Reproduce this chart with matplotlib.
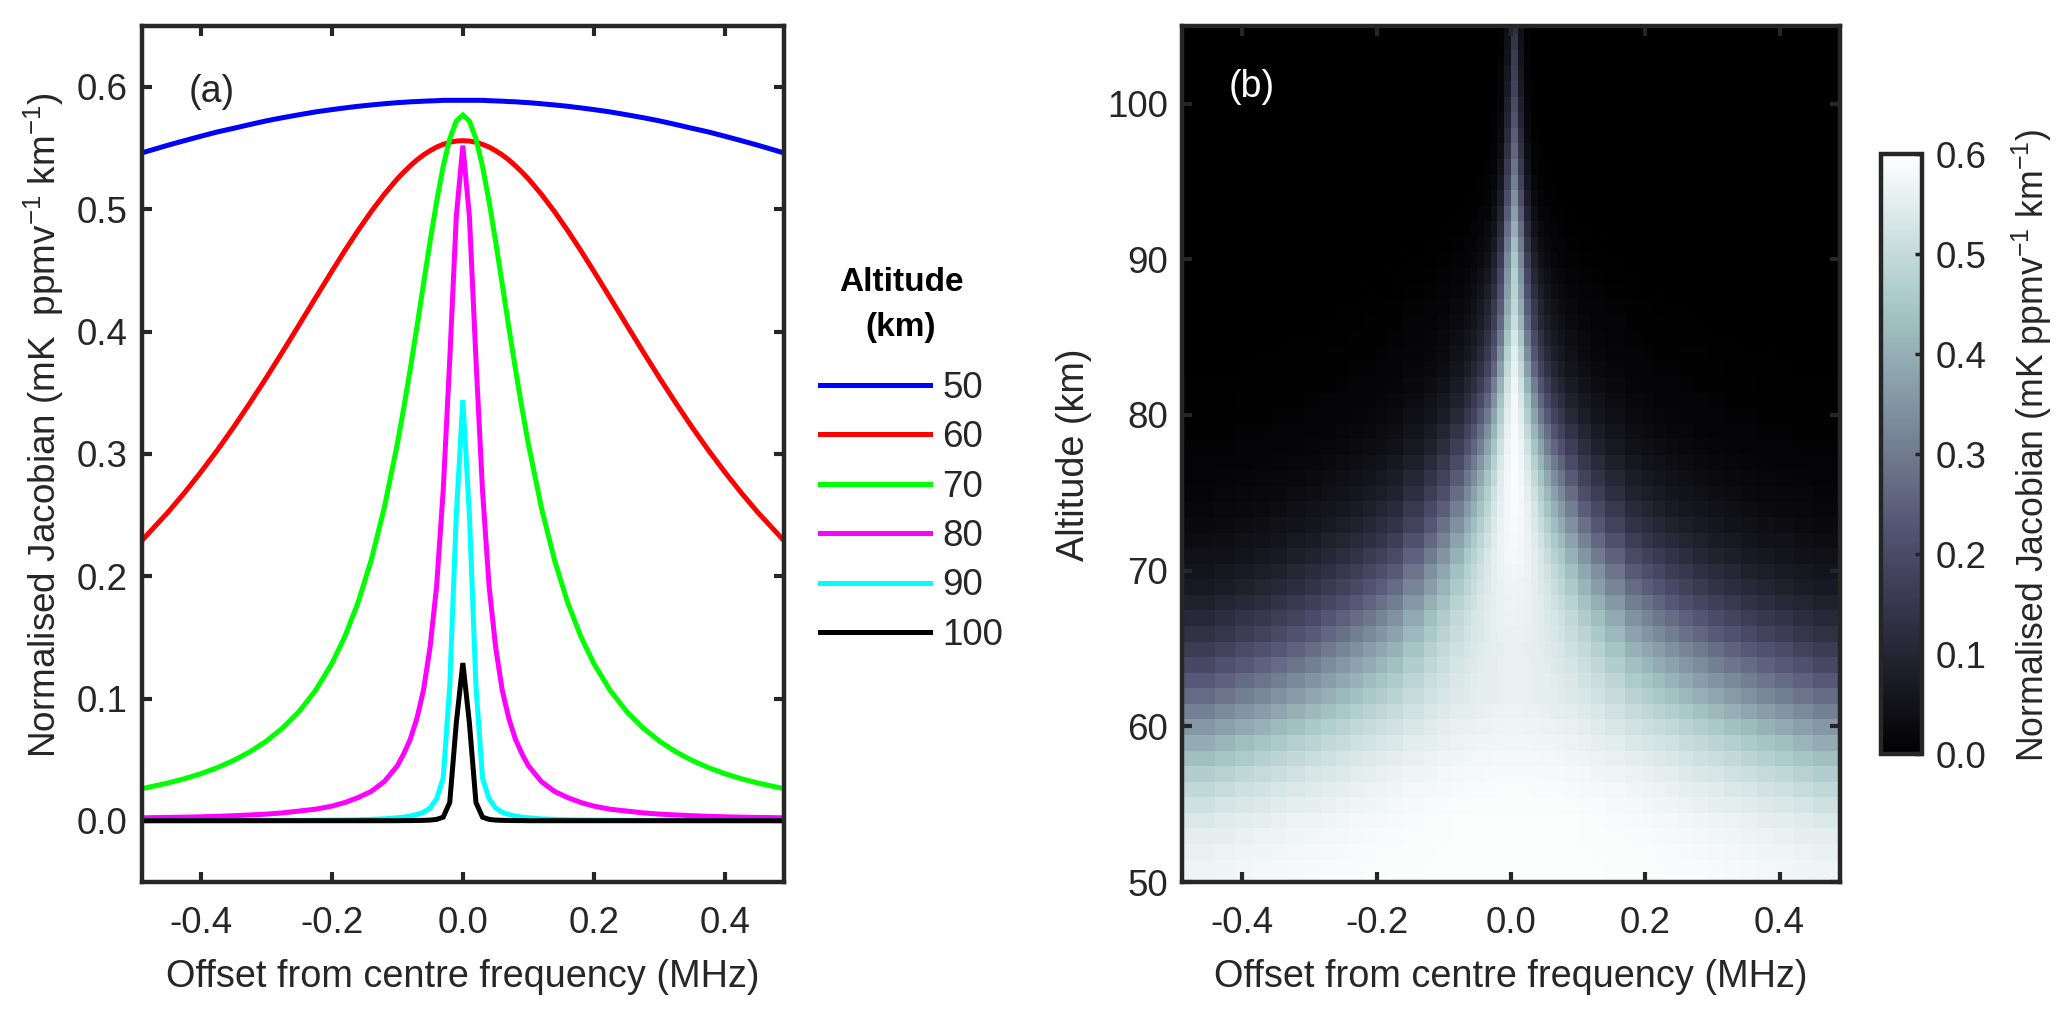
#!/usr/bin/env python
import numpy as np
import matplotlib
matplotlib.use('Agg')
import matplotlib.pyplot as plt

plt.rcParams['font.family'] = ['Liberation Sans', 'DejaVu Sans']
plt.rcParams['mathtext.fontset'] = 'custom'
plt.rcParams['mathtext.rm'] = 'Liberation Sans'
plt.rcParams['mathtext.default'] = 'regular'
plt.rcParams['text.color'] = '#262626'
plt.rcParams['axes.labelcolor'] = '#262626'

# panel (a): line profiles, offset from line centre, one side only
offsets = [0, .01, .02, .03, .04, .05, .06, .07, .08, .09, .1, .12, .14, .16, .18, .2,
           .225, .25, .275, .3, .325, .35, .375, .4, .425, .45, .49]
alt_50 = [.589, .589, .589, .589, .5887, .5885, .5883, .588, .5878, .5874, .5871, .5862, .5852, .5841,
          .5828, .5814, .5795, .5772, .5748, .5722, .5692, .5661, .5631, .5596, .556, .5523, .546]
alt_60 = [.556, .5557, .5547, .553, .5508, .5478, .5444, .5403, .5356, .5304, .5248, .5121, .4979, .4825,
          .4662, .4491, .4273, .4053, .3835, .3621, .3415, .3216, .3027, .2849, .268, .2522, .229]
alt_70 = [.577, .572, .5575, .535, .5063, .4736, .439, .404, .37, .338, .308, .2556, .2128, .1783,
          .1507, .1284, .1064, .0893, .0759, .0651, .0564, .0493, .0434, .0385, .0344, .0309, .0263]
alt_80 = [.552, .494, .377, .27, .192, .142, .107, .084, .067, .055, .045, .032, .024, .019,
          .015, .012, .0095, .008, .0065, .0055, .0048, .0042, .0037, .0033, .003, .0028, .0025]
alt_90 = [.344, .25, .11, .035, .018, .0105, .007, .0052, .004, .003, .0025, .0016, .0012, .0009,
          .0007, .0006, .0005, .0004, .0004, .0003, .0003, .0002, .0002, .0002, .0001, .0001, .0001]
alt_100 = [.129, .08, .015, .003, .0012, .0006, .0004, .0003, .0002, .0002, .0001, .0001, .0001, .0001,
           .0001, .0001, .0001, .0001, .0001, .0001, .0001, .0001, .0001, .0001, .0001, .0001, .0001]
series = [alt_50, alt_60, alt_70, alt_80, alt_90, alt_100]
series_labels = ['50', '60', '70', '80', '90', '100']
colors = ['#0000ff', '#ff0000', '#00ff00', '#ff00ff', '#00ffff', '#000000']

# panel (b): cell edges, distance from the central column and altitude of the rows
cell_edges = [.005, .015, .025, .035, .045, .055, .065, .075, .095, .115, .135, .165, .19, .206,
              .225, .245, .266, .288, .312, .338, .362, .388, .415, .445, .495]
alt_edges = list(range(56 + 1))
alt_start = 49.44
# one row per km from the bottom, centre column first, short rows are zero further out
jacobian = [
    [.595, .595, .595, .595, .595, .595, .595, .594, .594, .594, .593, .592, .591, .589, .587, .584, .580, .576, .570],
    [.595, .595, .595, .595, .595, .595, .595, .594, .594, .594, .593, .592, .591, .589, .587, .584, .580, .576, .570],
    [.595, .595, .595, .595, .595, .595, .594, .594, .594, .593, .592, .591, .590, .587, .584, .581, .575, .570, .562],
    [.595, .595, .595, .594, .594, .594, .594, .594, .593, .592, .591, .590, .588, .585, .581, .575, .568, .561, .551],
    [.595, .595, .595, .594, .594, .594, .594, .593, .593, .592, .590, .588, .585, .581, .576, .569, .560, .550, .537],
    [.592, .592, .592, .592, .591, .591, .591, .590, .589, .587, .586, .583, .579, .574, .566, .557, .546, .533, .516],
    [.589, .589, .589, .588, .588, .588, .587, .586, .585, .583, .581, .577, .572, .565, .556, .544, .530, .514, .494],
    [.585, .585, .584, .584, .584, .583, .582, .582, .580, .577, .574, .570, .563, .554, .543, .528, .510, .490, .466],
    [.58, .58, .58, .579, .578, .578, .577, .575, .573, .570, .566, .560, .551, .540, .525, .507, .484, .461, .432],
    [.575, .575, .575, .574, .573, .572, .571, .569, .566, .562, .557, .549, .538, .524, .506, .484, .457, .430, .398],
    [.57, .57, .569, .569, .567, .566, .564, .562, .559, .553, .546, .535, .521, .503, .480, .453, .422, .390, .354],
    [.565, .565, .564, .563, .562, .560, .557, .555, .550, .542, .533, .520, .502, .480, .452, .420, .384, .350, .312],
    [.56, .56, .559, .557, .555, .553, .550, .546, .540, .530, .518, .502, .480, .452, .419, .383, .343, .307, .268],
    [.56, .56, .558, .557, .554, .551, .547, .542, .534, .521, .507, .486, .459, .427, .389, .348, .306, .269, .230],
    [.56, .559, .558, .555, .552, .548, .543, .537, .526, .510, .492, .466, .434, .396, .354, .310, .268, .231, .194],
    [.56, .559, .557, .554, .550, .544, .538, .530, .517, .497, .475, .445, .408, .366, .321, .275, .232, .197, .163],
    [.562, .561, .558, .554, .548, .541, .533, .523, .506, .481, .453, .418, .375, .329, .281, .236, .195, .162, .132],
    [.565, .564, .561, .555, .548, .538, .528, .515, .495, .464, .432, .391, .344, .295, .247, .203, .165, .136, .109],
    [.568, .567, .562, .555, .545, .533, .519, .503, .478, .440, .403, .357, .307, .256, .210, .169, .135, .109, .087],
    [.57, .568, .562, .553, .540, .525, .507, .487, .456, .413, .370, .320, .269, .219, .175, .138, .109, .087, .068],
    [.575, .572, .565, .553, .537, .518, .496, .472, .436, .386, .340, .288, .236, .188, .148, .115, .089, .071, .055],
    [.58, .577, .567, .551, .530, .505, .478, .450, .407, .351, .302, .249, .199, .155, .120, .092, .070, .056, .043],
    [.582, .578, .565, .544, .518, .488, .456, .423, .375, .315, .265, .213, .166, .128, .097, .073, .056, .044, .034],
    [.585, .579, .563, .537, .504, .468, .430, .393, .340, .279, .229, .180, .138, .104, .078, .059, .044, .034, .026],
    [.588, .580, .559, .527, .487, .444, .401, .360, .305, .243, .196, .151, .114, .084, .063, .047, .035, .027, .021],
    [.59, .580, .554, .514, .467, .418, .371, .327, .270, .210, .165, .125, .093, .069, .050, .037, .028, .022, .016],
    [.59, .578, .544, .496, .442, .387, .336, .291, .235, .178, .138, .103, .076, .055, .040, .030, .022, .017, .013],
    [.59, .575, .533, .475, .413, .353, .300, .255, .201, .149, .114, .084, .061, .044, .032, .023, .017, .013, .010],
    [.588, .568, .515, .445, .375, .311, .258, .214, .165, .120, .090, .065, .047, .034, .024, .018, .013, .010, .008],
    [.585, .560, .496, .416, .339, .275, .222, .182, .138, .098, .073, .052, .037, .027, .019, .014, .010, .008, .006],
    [.58, .547, .468, .378, .297, .233, .184, .148, .110, .077, .056, .040, .029, .020, .015, .011, .008, .006, .005],
    [.58, .539, .444, .343, .260, .198, .154, .122, .089, .061, .045, .032, .022, .016, .011, .008, .006, .005, .004],
    [.57, .519, .410, .303, .222, .165, .126, .098, .071, .048, .035, .025, .017, .012, .009, .006, .005, .004, .003],
    [.56, .496, .370, .260, .184, .133, .100, .077, .055, .037, .027, .019, .013, .009, .007, .005, .004, .003, .002],
    [.55, .475, .337, .226, .156, .111, .082, .063, .044, .030, .021, .015, .010, .007, .005, .004, .003, .002, .002],
    [.53, .446, .302, .197, .132, .093, .068, .052, .036, .024, .017, .012, .009, .006, .004, .003, .002, .002, .001],
    [.51, .415, .267, .168, .110, .076, .056, .042, .029, .020, .014, .010, .007, .005, .003, .002, .002, .001, .001],
    [.49, .39, .24, .15, .095, .065, .047, .035, .024, .016, .011, .008, .006, .004, .003, .002, .001, .001, .001],
    [.48, .37, .215, .125, .08, .052, .037, .027, .018, .012, .008, .006, .004, .003, .002, .001, .001, .001],
    [.47, .35, .19, .105, .063, .04, .028, .02, .013, .009, .006, .004, .003, .002, .001, .001, .001],
    [.45, .33, .165, .085, .048, .03, .02, .014, .009, .006, .004, .003, .002, .001, .001, .001],
    [.43, .30, .14, .065, .035, .022, .014, .01, .006, .004, .003, .002, .001, .001, .001],
    [.40, .27, .115, .05, .026, .015, .01, .007, .004, .003, .002, .001, .001, .001],
    [.37, .24, .095, .038, .018, .01, .007, .005, .003, .002, .001, .001, .001],
    [.34, .21, .075, .028, .012, .007, .005, .003, .002, .001, .001, .001],
    [.31, .18, .06, .02, .009, .005, .003, .002, .001, .001, .001],
    [.285, .155, .047, .014, .006, .003, .002, .001, .001, .001],
    [.26, .135, .037, .01, .004, .002, .001, .001, .001],
    [.24, .115, .028, .007, .003, .001, .001, .001],
    [.22, .098, .022, .005, .002, .001, .001],
    [.20, .085, .017, .004, .001, .001],
    [.18, .072, .013, .003, .001],
    [.167, .062, .01, .002, .001],
    [.155, .053, .008, .001],
    [.143, .046, .006, .001],
    [.13, .04, .005, .001],
]
# extra columns for the far wings, same rows, go between the columns above
wing_columns = [13, 14, 15, 16, 17, 18]
jacobian_wing = [
    [.590, .588, .586, .582, .578, .573],
    [.590, .588, .586, .582, .578, .573],
    [.589, .586, .583, .578, .573, .566],
    [.586, .583, .578, .572, .565, .556],
    [.583, .579, .572, .565, .555, .544],
    [.576, .570, .561, .552, .540, .525],
    [.569, .561, .550, .537, .522, .505],
    [.559, .549, .536, .519, .500, .478],
    [.546, .533, .517, .496, .472, .447],
    [.531, .515, .495, .470, .444, .414],
    [.512, .494, .468, .437, .406, .372],
    [.491, .468, .438, .402, .367, .331],
    [.466, .437, .402, .362, .325, .287],
    [.443, .408, .369, .327, .287, .249],
    [.415, .376, .334, .289, .249, .212],
    [.386, .342, .298, .253, .214, .179],
    [.351, .304, .260, .215, .178, .146],
    [.318, .270, .226, .183, .149, .122],
    [.280, .232, .188, .150, .121, .097],
    [.242, .196, .156, .123, .097, .077],
    [.209, .166, .130, .101, .079, .062],
    [.175, .136, .105, .080, .062, .049],
    [.145, .111, .085, .064, .049, .039],
    [.119, .090, .068, .051, .039, .030],
    [.097, .072, .054, .040, .030, .024],
    [.079, .058, .043, .032, .024, .019],
    [.064, .047, .035, .025, .019, .015],
    [.051, .037, .027, .020, .015, .012],
    [.039, .029, .021, .015, .012, .009],
    [.031, .023, .016, .012, .009, .007],
    [.024, .017, .012, .009, .007, .005],
    [.019, .013, .010, .007, .005, .004],
    [.015, .010, .007, .005, .004, .003],
    [.011, .008, .006, .004, .003, .002],
    [.009, .006, .005, .003, .003, .002],
    [.007, .005, .004, .003, .002, .001],
    [.006, .004, .003, .002, .001, .001],
    [.005, .004, .002, .002, .001, .001],
]

W, H = 2067, 1018
DARK = '#262626'
FS = 26.5
LABEL_FS = 27.3


def place(left, right, top, bottom):
    return [left / W, 1 - bottom / H, (right - left) / W, (bottom - top) / H]


def style(ax):
    for s in ax.spines.values():
        s.set_linewidth(3.2)
        s.set_color(DARK)
    ax.tick_params(direction='in', top=True, right=True, length=7, width=3, color=DARK,
                   labelcolor=DARK, labelsize=FS)
    ax.tick_params(axis='x', pad=17)
    ax.tick_params(axis='y', pad=10)


fig = plt.figure(figsize=(W / 100, H / 100), dpi=100)

ax1 = fig.add_axes(place(141.7, 784, 25.7, 882))
x = np.array(offsets)
xx = np.concatenate((-x[:0:-1], x))
handles = []
for y, lab, c in zip(series, series_labels, colors):
    yy = np.concatenate((y[:0:-1], y))
    handles += ax1.plot(xx, yy, color=c, lw=3.6, label=lab, solid_joinstyle='miter')
ax1.set_xlim(-.49, .49)
ax1.set_ylim(-.05, .65)
ax1.set_xticks([-.4, -.2, 0, .2, .4])
ax1.set_xticklabels(['-0.4', '-0.2', '0.0', '0.2', '0.4'])
ax1.set_yticks(np.arange(0, .61, .1))
ax1.set_yticklabels(['0.0', '0.1', '0.2', '0.3', '0.4', '0.5', '0.6'])
style(ax1)
ax1.set_xlabel('Offset from centre frequency (MHz)', fontsize=LABEL_FS, va='center')
ax1.xaxis.set_label_coords(.5, (882 - 977) / 856.3)
ax1.set_ylabel('Normalised Jacobian (mK  ppmv$^{-1}$ km$^{-1}$)', fontsize=26.6, va='center')
ax1.yaxis.set_label_coords(-.152, .534)
ax1.text(.073, .923, '(a)', transform=ax1.transAxes, fontsize=27, ha='left', va='center')

fig.text(901 / W, 1 - 305 / H, 'Altitude\n(km)', fontsize=24, fontweight='bold', color='black',
         ha='center', va='center', linespacing=1.6, multialignment='center')
fig.legend(handles=handles, loc='upper left', bbox_to_anchor=(820 / W, 1 - 371 / H), frameon=False,
           fontsize=FS, handlelength=3.0, handletextpad=.33, labelspacing=.39, borderpad=0, borderaxespad=0)

ax2 = fig.add_axes(place(1181.7, 1840, 25.7, 882))
edges = np.array(cell_edges)
x_edges = np.concatenate((.005 - edges[::-1], .005 + edges))
y_edges = alt_start + np.array(alt_edges)
half = np.array([row + [0] * (19 - len(row)) for row in jacobian])
wing = np.zeros((len(jacobian), len(wing_columns)))
wing[:len(jacobian_wing)] = jacobian_wing
half = np.insert(half, wing_columns, wing, axis=1)
cells = np.hstack((half[:, :0:-1], half))
mesh = ax2.pcolormesh(x_edges, y_edges, cells, cmap='bone', vmin=0, vmax=.6, shading='flat', rasterized=True)
ax2.set_xlim(-.49, .49)
ax2.set_ylim(50, 105)
ax2.set_xticks([-.4, -.2, 0, .2, .4])
ax2.set_xticklabels(['-0.4', '-0.2', '0.0', '0.2', '0.4'])
ax2.set_yticks([50, 60, 70, 80, 90, 100])
style(ax2)
ax2.set_xlabel('Offset from centre frequency (MHz)', fontsize=LABEL_FS, va='center')
ax2.xaxis.set_label_coords(.5, (882 - 977) / 856.3)
ax2.set_ylabel('Altitude (km)', fontsize=LABEL_FS, va='center')
ax2.yaxis.set_label_coords(-.1636, .499)
ax2.text(.072, .928, '(b)', transform=ax2.transAxes, fontsize=27, color='white', ha='left', va='center')

cax = fig.add_axes(place(1880.7, 1921.7, 154, 754))
cb = fig.colorbar(mesh, cax=cax)
cb.set_ticks(np.arange(0, .61, .1))
cb.set_ticklabels(['0.0', '0.1', '0.2', '0.3', '0.4', '0.5', '0.6'])
cb.outline.set_linewidth(3.2)
cb.outline.set_edgecolor(DARK)
cax.tick_params(direction='in', length=5, width=2.5, color=DARK, labelcolor=DARK, labelsize=FS, pad=10)
cb.set_label('Normalised Jacobian (mK ppmv$^{-1}$ km$^{-1}$)', fontsize=25.7, va='center')
cax.yaxis.set_label_coords((2032 - 1880.7) / 41, .515)

fig.savefig('out.png', dpi=100)
